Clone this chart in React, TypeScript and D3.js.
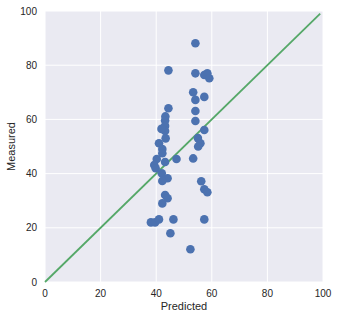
import React from "react";
import * as d3 from "d3";

const predicted = [
  54.1, 54.1, 57.3, 58.4, 59.1, 53.3, 54.1, 57.3, 54.1, 54.1,
  57.3, 55.0, 55.9, 55.1, 53.3, 56.2, 57.3, 58.4, 57.3, 52.3,
  44.4, 44.4, 43.3, 43.2, 43.2, 43.2, 41.9, 43.4, 41.0, 42.2,
  42.2, 40.2, 47.3, 39.3, 43.2, 39.8, 42.0, 44.1, 42.2, 43.2,
  44.1, 42.2, 38.1, 39.6, 41.0, 46.2, 45.1,
];
const measured = [
  88.1, 77.0, 76.4, 77.0, 75.2, 70.0, 67.2, 68.3, 63.1, 59.4,
  56.1, 53.1, 51.2, 50.0, 45.6, 37.2, 34.2, 33.1, 23.1, 12.1,
  78.1, 64.1, 61.1, 59.6, 57.6, 55.7, 56.5, 53.0, 51.2, 49.1,
  47.5, 45.4, 45.4, 43.2, 44.3, 42.0, 40.1, 38.3, 37.3, 32.1,
  30.9, 29.0, 22.0, 22.0, 23.1, 23.1, 18.0,
];
const ticks = [0, 20, 40, 60, 80, 100];
const lineEnd = 99;

const W = 339;
const H = 319;
const left = 45;
const right = 323;
const top = 11;
const bottom = 282;

export default function App() {
  const x = d3.scaleLinear().domain([0, 100]).range([left, right]);
  const y = d3.scaleLinear().domain([0, 100]).range([bottom, top]);
  const font = "'Liberation Sans', Arial, sans-serif";
  const pts = predicted.map((p, i) => [p, measured[i]]);
  return (
    <svg width={W} height={H} style={{ position: "absolute", left: 0, top: 0 }}>
      <rect x={0} y={0} width={W} height={H} fill="white" />
      <rect x={left} y={top} width={right - left} height={bottom - top} fill="#EAEAF2" />
      {ticks.map((t) => (
        <g key={"g" + t}>
          <line x1={x(t)} x2={x(t)} y1={top} y2={bottom} stroke="white" strokeWidth={1} />
          <line x1={left} x2={right} y1={y(t)} y2={y(t)} stroke="white" strokeWidth={1} />
        </g>
      ))}
      <line x1={x(0)} y1={y(0)} x2={x(lineEnd)} y2={y(lineEnd)} stroke="#55A868" strokeWidth={1.8} />
      {pts.map((d, i) => (
        <circle key={i} cx={x(d[0])} cy={y(d[1])} r={4.3} fill="#4C72B0" />
      ))}
      {ticks.map((t) => (
        <text key={"xt" + t} x={x(t)} y={297} textAnchor="middle" fontFamily={font} fontSize={10} fill="#262626">
          {t}
        </text>
      ))}
      {ticks.map((t) => (
        <text key={"yt" + t} x={37} y={y(t) + 3.5} textAnchor="end" fontFamily={font} fontSize={10} fill="#262626">
          {t}
        </text>
      ))}
      <text x={(left + right) / 2} y={310} textAnchor="middle" fontFamily={font} fontSize={11} fill="#262626">
        Predicted
      </text>
      <text
        transform={`translate(15,${(top + bottom) / 2}) rotate(-90)`}
        textAnchor="middle"
        fontFamily={font}
        fontSize={11}
        fill="#262626"
      >
        Measured
      </text>
    </svg>
  );
}
